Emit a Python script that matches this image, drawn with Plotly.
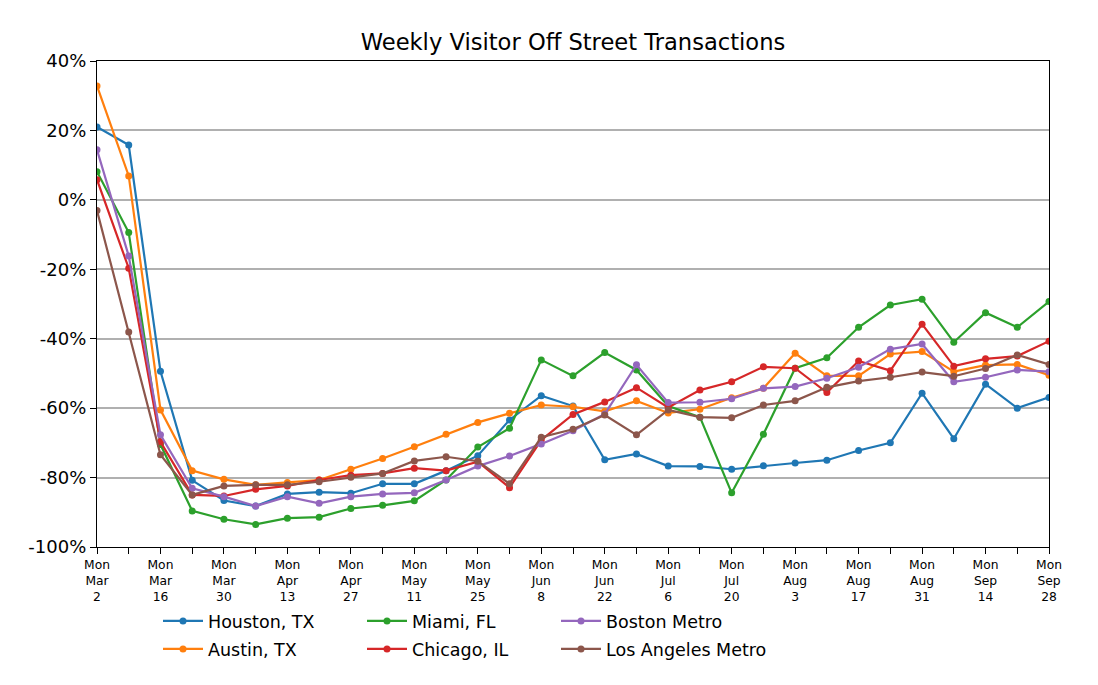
import plotly.graph_objects as go

weeks = ["2020-03-02", "2020-03-09", "2020-03-16", "2020-03-23", "2020-03-30",
         "2020-04-06", "2020-04-13", "2020-04-20", "2020-04-27", "2020-05-04",
         "2020-05-11", "2020-05-18", "2020-05-25", "2020-06-01", "2020-06-08",
         "2020-06-15", "2020-06-22", "2020-06-29", "2020-07-06", "2020-07-13",
         "2020-07-20", "2020-07-27", "2020-08-03", "2020-08-10", "2020-08-17",
         "2020-08-24", "2020-08-31", "2020-09-07", "2020-09-14", "2020-09-21",
         "2020-09-28"]

week_labels = ["Mon<br>Mar<br>2", "", "Mon<br>Mar<br>16", "", "Mon<br>Mar<br>30", "",
               "Mon<br>Apr<br>13", "", "Mon<br>Apr<br>27", "", "Mon<br>May<br>11", "",
               "Mon<br>May<br>25", "", "Mon<br>Jun<br>8", "", "Mon<br>Jun<br>22", "",
               "Mon<br>Jul<br>6", "", "Mon<br>Jul<br>20", "", "Mon<br>Aug<br>3", "",
               "Mon<br>Aug<br>17", "", "Mon<br>Aug<br>31", "", "Mon<br>Sep<br>14", "",
               "Mon<br>Sep<br>28"]

houston = [21.0, 15.8, -49.4, -80.8, -86.6, -88.2, -84.7, -84.2, -84.5, -81.8, -81.8,
           -78.0, -73.7, -63.4, -56.4, -59.4, -74.9, -73.2, -76.7, -76.8, -77.6, -76.6,
           -75.8, -75.0, -72.2, -70.0, -55.7, -68.8, -53.1, -60.0, -56.9]
austin = [32.8, 6.9, -60.5, -78.0, -80.5, -82.1, -81.4, -80.7, -77.6, -74.5, -71.1,
          -67.5, -64.1, -61.5, -59.1, -59.6, -60.9, -57.9, -61.4, -60.3, -57.0, -54.3,
          -44.2, -50.7, -50.7, -44.4, -43.7, -49.5, -47.6, -47.4, -50.5]
miami = [8.1, -9.4, -70.5, -89.6, -92.0, -93.5, -91.7, -91.4, -88.9, -88.0, -86.7,
         -80.7, -71.2, -65.8, -46.1, -50.7, -44.0, -49.0, -59.4, -62.6, -84.4, -67.5,
         -48.5, -45.5, -36.7, -30.3, -28.6, -41.0, -32.5, -36.7, -29.3]
chicago = [5.8, -19.7, -69.7, -85.0, -85.3, -83.4, -82.4, -80.7, -79.3, -78.8, -77.3,
           -78.0, -75.4, -82.9, -69.2, -61.8, -58.2, -54.1, -59.8, -54.8, -52.4, -48.1,
           -48.5, -55.5, -46.4, -49.2, -35.8, -47.9, -45.8, -45.0, -40.7]
boston = [14.4, -16.2, -67.7, -83.1, -85.5, -88.2, -85.5, -87.4, -85.5, -84.7, -84.4,
          -80.7, -76.7, -73.8, -70.3, -66.5, -61.7, -47.5, -58.4, -58.3, -57.3, -54.3,
          -53.8, -51.4, -48.2, -43.0, -41.5, -52.4, -51.1, -49.0, -49.5]
los_angeles = [-3.1, -38.1, -73.4, -85.0, -82.4, -82.1, -82.1, -81.2, -79.9, -78.8, -75.2,
               -74.0, -75.3, -81.8, -68.4, -66.1, -62.0, -67.7, -60.5, -62.6, -62.8, -59.1,
               -57.9, -54.0, -52.2, -51.1, -49.6, -50.8, -48.6, -44.7, -47.4]

y_ticks = [40, 20, 0, -20, -40, -60, -80, -100]
y_tick_labels = ["40%", "20%", "0%", "-20%", "-40%", "-60%", "-80%", "-100%"]

series = [
    ("Houston, TX", houston, "#1f77b4"),
    ("Austin, TX", austin, "#ff7f0e"),
    ("Miami, FL", miami, "#2ca02c"),
    ("Chicago, IL", chicago, "#d62728"),
    ("Boston Metro", boston, "#9467bd"),
    ("Los Angeles Metro", los_angeles, "#8c564b"),
]

# page body has an 8px margin; work in screen pixels and offset
OFF = 8
W, H = 1098 - OFF, 685 - OFF
L, R, T, B = 97 - OFF, 1049 - OFF, 61 - OFF, 547 - OFF
pw, ph = R - L, B - T

# legend positions (text start x, row center y) in screen pixels
legend_px = [(208, 621), (208, 649), (412, 621), (412, 649), (606, 621), (606, 649)]

fig = go.Figure()
layout_legends = {}
for i, (name, vals, color) in enumerate(series):
    key = "legend" if i == 0 else f"legend{i+1}"
    fig.add_trace(go.Scatter(
        x=weeks, y=vals, name=name, mode="lines+markers",
        line=dict(color=color, width=2.2),
        marker=dict(color=color, size=7),
        legend=key,
    ))
    tx, ty = legend_px[i]
    tx, ty = tx - OFF, ty - OFF
    layout_legends[key] = dict(
        x=(tx - 50 - L) / pw, y=-(ty - B) / ph,
        xanchor="left", yanchor="middle",
        bgcolor="rgba(0,0,0,0)", borderwidth=0,
        itemwidth=40,
        font=dict(family="DejaVu Sans", size=17.5, color="black"),
    )

fig.update_layout(
    width=W, height=H,
    margin=dict(l=L, r=W - R, t=T, b=H - B, pad=0),
    paper_bgcolor="white", plot_bgcolor="white",
    title=dict(text="Weekly Visitor Off Street Transactions",
               x=0.5, xref="paper", xanchor="center",
               y=1 - (42 - OFF) / H, yref="container", yanchor="middle",
               font=dict(family="DejaVu Sans", size=22.6, color="black")),
    font=dict(family="DejaVu Sans", color="black"),
    showlegend=True,
    **layout_legends,
)

fig.update_xaxes(
    type="date", range=[weeks[0], weeks[-1]],
    tickmode="array", tickvals=weeks, ticktext=week_labels,
    ticks="outside", ticklen=6, tickwidth=1.3, tickcolor="black",
    showline=True, linecolor="black", linewidth=1.3, mirror=True,
    showgrid=False, zeroline=False,
    tickfont=dict(family="DejaVu Sans", size=12.3, color="black"),
)
fig.update_yaxes(
    range=[-100, 40],
    tickmode="array", tickvals=y_ticks, ticktext=y_tick_labels,
    ticks="outside", ticklen=6, tickwidth=1.3, tickcolor="black",
    showline=True, linecolor="black", linewidth=1.3, mirror=True,
    showgrid=True, gridcolor="#b0b0b0", gridwidth=1.5, zeroline=False,
    tickfont=dict(family="DejaVu Sans", size=18, color="black"),
)

fig.write_html("out.html")
